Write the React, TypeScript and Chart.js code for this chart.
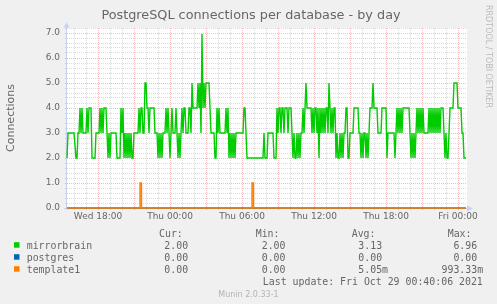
import React, { useEffect, useRef } from 'react';
import { Chart, registerables } from 'chart.js';

Chart.register(...registerables);

// ---- text ----
const TITLE = 'PostgreSQL connections per database - by day';
const Y_TITLE = 'Connections';
const WATERMARK = 'RRDTOOL / TOBI OETIKER';
const LAST_UPDATE = 'Last update: Fri Oct 29 00:40:06 2021';
const FOOTER = 'Munin 2.0.33-1';

// ---- x axis (5-minute samples, 0..400) ----
const X_MAX = 400;
const hourTicks = [7, 19, 31, 43, 55, 67, 79, 91, 103, 115, 127, 139, 151, 163, 175, 187, 199, 211, 223, 235, 247, 259, 271, 283, 295, 307, 319, 331, 343, 355, 367, 379, 391];
const majorTicks = [31, 67, 103, 139, 175, 211, 247, 283, 319, 355, 391];
const labelTicks = [31, 103, 175, 247, 319, 391];
const tickLabels = ['Wed 18:00', 'Thu 00:00', 'Thu 06:00', 'Thu 12:00', 'Thu 18:00', 'Fri 00:00'];

// ---- y axis ----
const Y_MAX = 7.2;
const Y_STEP = 0.2;

// ---- series: [sample, value] ----
const mirrorbrain: [number, number][] = [
  [0, 2], [1, 3], [7, 3], [9, 2], [10, 2], [11, 3], [12, 3], [13, 4], [14, 3], [15, 4], [16, 3], [19, 3], [20, 4], [21, 3], [22, 4], [24, 4], [25, 2], [28, 2], [29, 3], [32, 3],
  [33, 4], [34, 3], [35, 4], [36, 3], [37, 4], [39, 4], [40, 3], [41, 2], [42, 3], [43, 2], [44, 3], [49, 3], [50, 2], [53, 2], [54, 4], [55, 3], [56, 4], [57, 2], [58, 3], [59, 2],
  [60, 3], [61, 2], [62, 3], [63, 2], [64, 3], [65, 2], [66, 2], [67, 3], [71, 3], [72, 4], [73, 3], [74, 4], [75, 4], [76, 3], [77, 3], [78, 5], [79, 5], [80, 4], [81, 4], [82, 3],
  [83, 4], [87, 4], [88, 3], [90, 3], [91, 2], [92, 3], [93, 2], [94, 3], [95, 2], [96, 3], [98, 3], [99, 4], [100, 3], [101, 4], [102, 3], [103, 2], [104, 3], [105, 4], [106, 3], [108, 3],
  [109, 4], [110, 3], [111, 2], [112, 3], [113, 2], [114, 3], [115, 4], [116, 3], [117, 4], [118, 4], [119, 3], [121, 3], [122, 4], [123, 4], [124, 3], [125, 5], [126, 4], [130, 4], [131, 5], [132, 4],
  [133, 5], [134, 3], [135, 6.96], [136, 4], [137, 5], [138, 4], [139, 5], [142, 5], [143, 4], [144, 3], [147, 3], [148, 2], [149, 2], [150, 4], [151, 3], [152, 4], [153, 3], [158, 3], [159, 4], [160, 3],
  [161, 4], [162, 2], [163, 3], [164, 2], [165, 3], [166, 2], [167, 3], [168, 2], [169, 3], [176, 3], [177, 4], [178, 4], [179, 3], [180, 2], [196, 2], [197, 3], [198, 2], [200, 2], [201, 3], [206, 3],
  [207, 2], [209, 2], [210, 4], [211, 3], [212, 4], [213, 4], [214, 3], [215, 4], [216, 4], [217, 3], [218, 4], [220, 4], [221, 3], [222, 4], [224, 4], [225, 3], [226, 2], [227, 3], [228, 2], [229, 2],
  [230, 3], [231, 2], [232, 3], [233, 2], [234, 3], [235, 3], [236, 4], [237, 3], [238, 4], [239, 5], [240, 4], [244, 4], [245, 3], [246, 4], [247, 3], [248, 4], [249, 4], [250, 3], [251, 4], [252, 2],
  [253, 4], [254, 3], [255, 4], [256, 3], [257, 4], [258, 3], [259, 4], [260, 4], [261, 3], [262, 5], [263, 4], [264, 3], [265, 4], [266, 3], [267, 4], [268, 4], [269, 2], [270, 3], [271, 2], [272, 2],
  [273, 3], [274, 2], [275, 3], [276, 2], [277, 3], [278, 3], [279, 4], [280, 4], [281, 2], [282, 2], [283, 3], [286, 3], [287, 4], [291, 4], [292, 3], [293, 3], [294, 2], [295, 3], [296, 2], [297, 3],
  [298, 3], [299, 2], [300, 3], [301, 2], [302, 3], [303, 4], [305, 4], [306, 5], [307, 4], [310, 4], [311, 3], [314, 3], [315, 4], [319, 4], [320, 2], [321, 3], [327, 3], [328, 2], [329, 3], [330, 4],
  [331, 3], [332, 4], [333, 3], [334, 4], [335, 3], [336, 4], [342, 4], [343, 3], [344, 2], [345, 3], [346, 2], [347, 3], [348, 2], [349, 3], [350, 4], [351, 3], [352, 4], [353, 3], [354, 4], [355, 3],
  [356, 4], [357, 3], [361, 3], [362, 4], [363, 3], [364, 4], [365, 3], [366, 4], [367, 3], [368, 4], [369, 3], [370, 4], [371, 3], [372, 4], [373, 3], [374, 4], [376, 4], [377, 3], [378, 2], [379, 3],
  [380, 2], [381, 2], [382, 3], [383, 4], [386, 4], [387, 5], [390, 5], [391, 4], [394, 4], [395, 3], [396, 3], [397, 2], [399, 2],
];
const postgres: [number, number][] = [[0, 0], [399, 0]];
const template1: [number, number][] = [
  [0, 0], [73, 0], [73, 1], [74.5, 1], [74.5, 0], [185, 0], [185, 1], [186.5, 1], [186.5, 0], [399, 0],
];

// ---- legend ----
const seriesNames = ['mirrorbrain', 'postgres', 'template1'];
const seriesColors = ['#00CC00', '#0066B3', '#FF8000'];
const legendHeaders = ['Cur:', 'Min:', 'Avg:', 'Max:'];
const curValues = ['2.00', '0.00', '0.00'];
const minValues = ['2.00', '0.00', '0.00'];
const avgValues = ['3.13', '0.00', '5.05m'];
const maxValues = ['6.96', '0.00', '993.33m'];

const FONT = '"DejaVu Sans", sans-serif';
const MONO = '"DejaVu Sans Mono", monospace';
const TEXT = '#666666';
const GRID_MINOR = 'rgba(143,143,143,0.32)';
const GRID_MAJOR = 'rgba(222,79,79,0.38)';
const AXIS = '#C8D0F4';

const isInt = (v: number) => Math.abs(v - Math.round(v)) < 1e-6;

const decor = {
  id: 'decor',
  beforeDraw(chart: any) {
    const { ctx, chartArea: a } = chart;
    ctx.save();
    ctx.fillStyle = '#F0F0F0';
    ctx.fillRect(0, 0, chart.width, chart.height);
    ctx.fillStyle = '#FFFFFF';
    ctx.fillRect(a.left, a.top, a.right - a.left, a.bottom - a.top);
    ctx.restore();
  },
  beforeDatasetsDraw(chart: any) {
    const { ctx, chartArea: a } = chart;
    ctx.save();
    ctx.strokeStyle = AXIS;
    ctx.fillStyle = AXIS;
    ctx.lineWidth = 1;
    // y axis
    const ax = a.left - 0.5;
    ctx.beginPath();
    ctx.moveTo(ax, a.bottom + 2);
    ctx.lineTo(ax, a.top - 1);
    ctx.stroke();
    ctx.beginPath();
    ctx.moveTo(ax - 3, a.top - 0.5);
    ctx.lineTo(ax + 3, a.top - 0.5);
    ctx.lineTo(ax, a.top - 5.5);
    ctx.closePath();
    ctx.fill();
    // x axis
    const ay = a.bottom + 0.5;
    ctx.beginPath();
    ctx.moveTo(a.left - 3, ay);
    ctx.lineTo(a.right + 1, ay);
    ctx.stroke();
    ctx.beginPath();
    ctx.moveTo(a.right, ay - 3);
    ctx.lineTo(a.right, ay + 3);
    ctx.lineTo(a.right + 6, ay);
    ctx.closePath();
    ctx.fill();
    ctx.restore();
  },
  afterDraw(chart: any) {
    const { ctx, chartArea: a } = chart;
    ctx.save();
    // title
    ctx.fillStyle = TEXT;
    ctx.font = `12.8px ${FONT}`;
    ctx.textAlign = 'center';
    ctx.textBaseline = 'alphabetic';
    ctx.fillText(TITLE, 251, 18.5);
    // y title
    ctx.save();
    ctx.translate(11, (a.top + a.bottom) / 2);
    ctx.rotate(-Math.PI / 2);
    ctx.font = `11px ${FONT}`;
    ctx.textAlign = 'center';
    ctx.textBaseline = 'middle';
    ctx.fillText(Y_TITLE, 0, 0);
    ctx.restore();
    // watermark
    ctx.save();
    ctx.translate(488.5, 5);
    ctx.rotate(Math.PI / 2);
    ctx.font = `8px ${FONT}`;
    ctx.fillStyle = '#BBBBBB';
    ctx.textAlign = 'left';
    ctx.textBaseline = 'middle';
    ctx.fillText(WATERMARK, 0, 0);
    ctx.restore();
    // legend
    ctx.font = `9.9px ${MONO}`;
    ctx.textBaseline = 'alphabetic';
    ctx.fillStyle = TEXT;
    ctx.textAlign = 'left';
    const headerX = [159, 255.7, 351.7, 447.7];
    legendHeaders.forEach((h, i) => ctx.fillText(h, headerX[i], 236.5));
    const numRight = [188.1, 285.5, 382.1, 477.2];
    const cols = [curValues, minValues, avgValues, maxValues];
    seriesNames.forEach((name, r) => {
      const base = 248.7 + r * 12;
      ctx.fillStyle = seriesColors[r];
      ctx.fillRect(14, base - 6.5, 5.5, 5.5);
      ctx.fillStyle = TEXT;
      ctx.textAlign = 'left';
      ctx.fillText(name, 26.7, base);
      cols.forEach((col, c) => {
        const s = col[r];
        const m = s.match(/^([-0-9.]+)(\D*)$/);
        const num = m ? m[1] : s;
        const unit = m ? m[2] : '';
        ctx.textAlign = 'right';
        ctx.fillText(num, numRight[c], base);
        if (unit) {
          ctx.textAlign = 'left';
          ctx.fillText(unit, numRight[c], base);
        }
      });
    });
    ctx.textAlign = 'right';
    ctx.fillText(LAST_UPDATE, 482.8, 284.6);
    // footer
    ctx.font = `8px ${FONT}`;
    ctx.fillStyle = '#B4B4B4';
    ctx.textAlign = 'center';
    ctx.fillText(FOOTER, 248.5, 296.5);
    ctx.restore();
  },
};

export default function App() {
  const ref = useRef<HTMLCanvasElement | null>(null);
  useEffect(() => {
    document.body.style.margin = '0';
    const canvas = ref.current;
    if (!canvas) return;
    const toXY = (arr: [number, number][]) => arr.map(([x, y]) => ({ x, y }));
    const chart = new Chart(canvas, {
      type: 'line',
      data: {
        datasets: [
          { label: seriesNames[2], data: toXY(template1), borderColor: seriesColors[2], borderWidth: 1.4, pointRadius: 0, clip: 3 } as any,
          { label: seriesNames[1], data: toXY(postgres), borderColor: seriesColors[1], borderWidth: 1.4, pointRadius: 0, clip: 3 } as any,
          { label: seriesNames[0], data: toXY(mirrorbrain), borderColor: seriesColors[0], borderWidth: 1.4, pointRadius: 0, clip: 3 } as any,
        ],
      },
      options: {
        responsive: false,
        animation: false,
        devicePixelRatio: 1,
        layout: { padding: { top: 28, right: 30, left: 0, bottom: 0 } },
        plugins: { legend: { display: false }, tooltip: { enabled: false }, title: { display: false } },
        elements: { point: { radius: 0 }, line: { tension: 0 } },
        scales: {
          x: {
            type: 'linear',
            min: 0,
            max: X_MAX,
            afterBuildTicks: (s: any) => {
              s.ticks = hourTicks.map((v) => ({ value: v }));
            },
            afterFit: (s: any) => {
              s.height = 96;
            },
            grid: {
              color: (c: any) => (majorTicks.includes(c.tick?.value) ? GRID_MAJOR : GRID_MINOR),
              tickLength: 2,
              lineWidth: 1,
            },
            border: { display: false, dash: [1, 1] },
            ticks: {
              autoSkip: false,
              maxRotation: 0,
              minRotation: 0,
              padding: 1,
              color: TEXT,
              font: { family: 'DejaVu Sans', size: 9 },
              callback: (v: any) => {
                const i = labelTicks.indexOf(Number(v));
                return i >= 0 ? tickLabels[i] : '';
              },
            },
          },
          y: {
            type: 'linear',
            min: 0,
            max: Y_MAX,
            afterFit: (s: any) => {
              s.width = 67;
            },
            grid: {
              color: (c: any) => (c.tick && isInt(c.tick.value) ? GRID_MAJOR : GRID_MINOR),
              tickLength: 2,
              lineWidth: 1,
            },
            border: { display: false, dash: [1, 1] },
            ticks: {
              stepSize: Y_STEP,
              autoSkip: false,
              padding: 5,
              color: TEXT,
              font: { family: 'DejaVu Sans', size: 9 },
              callback: (v: any) => (isInt(Number(v)) ? Number(v).toFixed(1) : ''),
            },
          },
        },
      } as any,
      plugins: [decor],
    });
    return () => chart.destroy();
  }, []);
  return (
    <div style={{ width: 497, height: 304 }}>
      <canvas ref={ref} width={497} height={304} style={{ display: 'block', width: 497, height: 304 }} />
    </div>
  );
}
